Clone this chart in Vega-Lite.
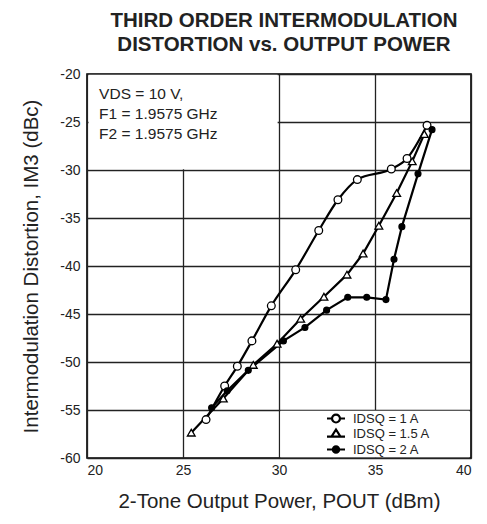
{
  "$schema": "https://vega.github.io/schema/vega-lite/v6.json",
  "autosize": "none",
  "width": 384,
  "height": 384,
  "padding": {"left": 87, "top": 74, "right": 16, "bottom": 66},
  "background": "white",
  "config": {
    "font": "Liberation Sans",
    "view": {"stroke": "black", "strokeWidth": 1.6},
    "axis": {"labelFont": "Liberation Sans", "titleFont": "Liberation Sans", "labelColor": "#222", "titleColor": "#222", "titleFontWeight": "normal"}
  },
  "title": {
    "text": ["THIRD ORDER INTERMODULATION", "DISTORTION vs. OUTPUT POWER"],
    "font": "Liberation Sans",
    "fontSize": 20.5,
    "fontWeight": "bold",
    "color": "#222",
    "anchor": "middle",
    "lineHeight": 24,
    "offset": 12,
    "dx": 5
  },
  "datasets": {
    "curves": [
      {"s": "IDSQ = 1 A", "x": 26.2, "y": -56.0},
      {"s": "IDSQ = 1 A", "x": 27.17, "y": -52.5},
      {"s": "IDSQ = 1 A", "x": 27.83, "y": -50.45},
      {"s": "IDSQ = 1 A", "x": 28.59, "y": -47.8},
      {"s": "IDSQ = 1 A", "x": 29.6, "y": -44.15},
      {"s": "IDSQ = 1 A", "x": 30.87, "y": -40.4},
      {"s": "IDSQ = 1 A", "x": 32.07, "y": -36.3},
      {"s": "IDSQ = 1 A", "x": 33.07, "y": -33.1},
      {"s": "IDSQ = 1 A", "x": 34.08, "y": -31.0},
      {"s": "IDSQ = 1 A", "x": 35.85, "y": -29.9},
      {"s": "IDSQ = 1 A", "x": 36.67, "y": -28.8},
      {"s": "IDSQ = 1 A", "x": 37.71, "y": -25.35},
      {"s": "IDSQ = 1.5 A", "x": 25.43, "y": -57.36},
      {"s": "IDSQ = 1.5 A", "x": 27.1, "y": -53.8},
      {"s": "IDSQ = 1.5 A", "x": 28.66, "y": -50.3},
      {"s": "IDSQ = 1.5 A", "x": 29.9, "y": -48.1},
      {"s": "IDSQ = 1.5 A", "x": 31.13, "y": -45.5},
      {"s": "IDSQ = 1.5 A", "x": 32.34, "y": -43.2},
      {"s": "IDSQ = 1.5 A", "x": 33.54, "y": -40.9},
      {"s": "IDSQ = 1.5 A", "x": 34.38, "y": -38.7},
      {"s": "IDSQ = 1.5 A", "x": 35.2, "y": -35.8},
      {"s": "IDSQ = 1.5 A", "x": 36.13, "y": -32.4},
      {"s": "IDSQ = 1.5 A", "x": 36.94, "y": -29.1},
      {"s": "IDSQ = 1.5 A", "x": 37.57, "y": -26.25},
      {"s": "IDSQ = 2 A", "x": 26.49, "y": -54.76},
      {"s": "IDSQ = 2 A", "x": 27.3, "y": -53.0},
      {"s": "IDSQ = 2 A", "x": 28.4, "y": -50.87},
      {"s": "IDSQ = 2 A", "x": 30.23, "y": -47.8},
      {"s": "IDSQ = 2 A", "x": 31.35, "y": -46.4},
      {"s": "IDSQ = 2 A", "x": 32.48, "y": -44.6},
      {"s": "IDSQ = 2 A", "x": 33.58, "y": -43.26},
      {"s": "IDSQ = 2 A", "x": 34.57, "y": -43.26},
      {"s": "IDSQ = 2 A", "x": 35.57, "y": -43.5},
      {"s": "IDSQ = 2 A", "x": 35.99, "y": -39.3},
      {"s": "IDSQ = 2 A", "x": 36.4, "y": -35.9},
      {"s": "IDSQ = 2 A", "x": 37.24, "y": -30.4},
      {"s": "IDSQ = 2 A", "x": 37.97, "y": -25.8}
    ],
    "masks": [
      {"x1": 20.08, "x2": 29.93, "y1": -20.08, "y2": -29.93},
      {"x1": 30.07, "x2": 39.92, "y1": -55.07, "y2": -59.92}
    ]
  },
  "layer": [
    {
      "data": {"name": "masks"},
      "mark": {"type": "rect", "fill": "white", "stroke": null},
      "encoding": {
        "x": {"field": "x1", "type": "quantitative", "scale": {"domain": [20, 40]},
          "axis": {"values": [20, 25, 30, 35, 40], "grid": true, "gridColor": "#222", "gridWidth": 1.3, "ticks": false, "domain": false, "labelFontSize": 14, "labelPadding": 5, "title": "2-Tone Output Power, POUT (dBm)", "titleFontSize": 20.5, "titlePadding": 14}},
        "x2": {"field": "x2"},
        "y": {"field": "y1", "type": "quantitative", "scale": {"domain": [-60, -20]},
          "axis": {"values": [-60, -55, -50, -45, -40, -35, -30, -25, -20], "labelExpr": "replace(datum.label, '\u2212', '-')", "grid": true, "gridColor": "#222", "gridWidth": 1.3, "ticks": false, "domain": false, "labelFontSize": 14, "labelPadding": 7, "title": "Intermodulation Distortion, IM3 (dBc)", "titleFontSize": 20.5, "titlePadding": 18}},
        "y2": {"field": "y2"}
      }
    },
    {
      "data": {"name": "curves"},
      "transform": [{"filter": "datum.s === 'IDSQ = 1 A'"}],
      "mark": {"type": "line", "color": "black", "strokeWidth": 2.2, "interpolate": "monotone"},
      "encoding": {
        "x": {"field": "x", "type": "quantitative"},
        "y": {"field": "y", "type": "quantitative"},
        "order": {"field": "x"}
      }
    },
    {
      "data": {"name": "curves"},
      "transform": [{"filter": "datum.s !== 'IDSQ = 1 A'"}],
      "mark": {"type": "line", "color": "black", "strokeWidth": 2.2},
      "encoding": {
        "x": {"field": "x", "type": "quantitative"},
        "y": {"field": "y", "type": "quantitative"},
        "detail": {"field": "s"},
        "order": {"field": "x"}
      }
    },
    {
      "data": {"name": "curves"},
      "mark": {"type": "point", "filled": true, "stroke": "black", "strokeWidth": 1.3, "opacity": 1},
      "encoding": {
        "x": {"field": "x", "type": "quantitative"},
        "y": {"field": "y", "type": "quantitative"},
        "fill": {"field": "s", "type": "nominal",
          "scale": {"domain": ["IDSQ = 1 A", "IDSQ = 1.5 A", "IDSQ = 2 A"], "range": ["white", "white", "black"]}},
        "shape": {"condition": {"test": "datum.s === 'IDSQ = 1.5 A'", "value": "triangle-up"}, "value": "circle"},
        "size": {"condition": {"test": "datum.s === 'IDSQ = 2 A'", "value": 34}, "value": 60}
      }
    },
    {
      "data": {"name": "curves"},
      "transform": [{"filter": "datum.s === 'none'"}],
      "mark": {"type": "point", "filled": true, "stroke": "black", "strokeWidth": 2, "opacity": 1},
      "encoding": {
        "x": {"field": "x", "type": "quantitative"},
        "y": {"field": "y", "type": "quantitative"},
        "fill": {"field": "s", "type": "nominal",
          "scale": {"domain": ["IDSQ = 1 A", "IDSQ = 1.5 A", "IDSQ = 2 A"], "range": ["white", "white", "black"]},
          "legend": {
            "orient": "none", "legendX": 240, "legendY": 337, "title": null,
            "labelFontSize": 13, "labelColor": "#222", "labelFont": "Liberation Sans",
            "rowPadding": 0.5, "clipHeight": 15, "symbolSize": 225, "symbolOffset": 0, "labelOffset": 8,
            "symbolStrokeColor": "black", "symbolStrokeWidth": 2.2, "symbolOpacity": 1
          }},
        "shape": {"field": "s", "type": "nominal",
          "scale": {"domain": ["IDSQ = 1 A", "IDSQ = 1.5 A", "IDSQ = 2 A"],
            "range": [
              "M-1.2,0L-0.53,0M0.53,0L1.2,0M0.53,0A0.53,0.53,0,1,1,-0.53,0A0.53,0.53,0,1,1,0.53,0Z",
              "M-1.2,0.35L-0.6,0.35M0.6,0.35L1.2,0.35M0,-0.6L0.6,0.35L-0.6,0.35Z",
              "M-1.2,0L1.2,0M0.42,0A0.42,0.42,0,1,1,-0.42,0A0.42,0.42,0,1,1,0.42,0Z"
            ]}}
      }
    },
    {
      "data": {"values": [{}]},
      "mark": {"type": "text", "align": "left", "baseline": "top", "fontSize": 15.5, "font": "Liberation Sans", "color": "#222", "lineHeight": 20},
      "encoding": {
        "x": {"datum": 20.63},
        "y": {"datum": -21.4},
        "text": {"value": ["VDS = 10 V,", "F1 = 1.9575 GHz", "F2 = 1.9575 GHz"]}
      }
    }
  ]
}
